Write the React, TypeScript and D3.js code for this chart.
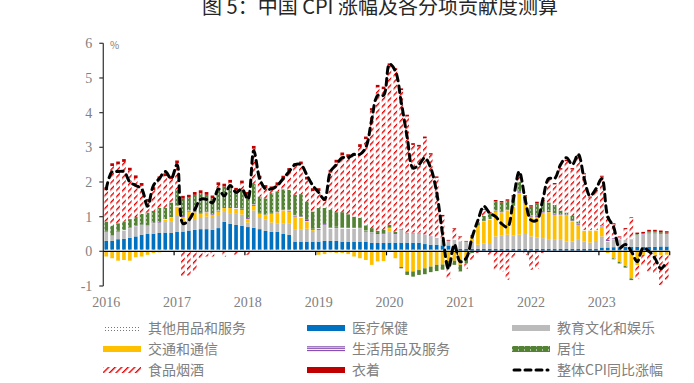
import React from 'react';
import * as d3 from 'd3';

const years = ['2016', '2017', '2018', '2019', '2020', '2021', '2022', '2023'];
const months: string[] = years.flatMap((yr) => d3.range(1, 13).map((m) => `${yr}-${m}`));

// contributions (percentage points), Jan 2016 .. Dec 2023
const other = [
  0.05, 0.05, 0.05, 0.05, 0.05, 0.05, 0.05, 0.05, 0.05, 0.05, 0.05, 0.05,
  0.05, 0.05, 0.05, 0.05, 0.05, 0.05, 0.05, 0.05, 0.05, 0.05, 0.05, 0.05,
  0.05, 0.05, 0.05, 0.05, 0.05, 0.05, 0.05, 0.05, 0.05, 0.05, 0.05, 0.05,
  0.05, 0.05, 0.05, 0.05, 0.05, 0.05, 0.05, 0.05, 0.05, 0.05, 0.05, 0.05,
  0.05, 0.05, 0.05, 0.05, 0.05, 0.05, 0.05, 0.05, 0.05, 0.05, 0.05, 0.05,
  0.02, 0.02, 0.02, 0.02, 0.02, 0.02, 0.02, 0.02, 0.02, 0.02, 0.02, 0.02,
  0.02, 0.02, 0.02, 0.02, 0.02, 0.02, 0.02, 0.02, 0.02, 0.02, 0.02, 0.02,
  0.03, 0.03, 0.03, 0.03, 0.03, 0.03, 0.03, 0.03, 0.03, 0.03, 0.03, 0.03,
];
const medical = [
  0.25, 0.25, 0.3, 0.31, 0.34, 0.38, 0.43, 0.45, 0.46, 0.48, 0.49, 0.48,
  0.51, 0.52, 0.55, 0.57, 0.59, 0.59, 0.57, 0.62, 0.8, 0.74, 0.71, 0.69,
  0.65, 0.63, 0.59, 0.54, 0.51, 0.51, 0.45, 0.43, 0.23, 0.23, 0.23, 0.23,
  0.23, 0.25, 0.25, 0.25, 0.23, 0.23, 0.23, 0.23, 0.23, 0.2, 0.19, 0.19,
  0.2, 0.2, 0.2, 0.2, 0.2, 0.2, 0.16, 0.14, 0.14, 0.12, 0.12, 0.12,
  0.05, 0.05, 0.05, 0.05, 0.05, 0.05, 0.05, 0.05, 0.05, 0.05, 0.05, 0.05,
  0.05, 0.05, 0.05, 0.05, 0.05, 0.05, 0.05, 0.05, 0.05, 0.05, 0.05, 0.05,
  0.08, 0.08, 0.09, 0.09, 0.1, 0.1, 0.1, 0.1, 0.1, 0.1, 0.11, 0.11,
];
const education = [
  0.27, 0.15, 0.22, 0.24, 0.28, 0.29, 0.27, 0.24, 0.3, 0.3, 0.31, 0.32,
  0.46, 0.29, 0.31, 0.31, 0.35, 0.36, 0.37, 0.35, 0.31, 0.31, 0.32, 0.32,
  0.13, 0.5, 0.35, 0.32, 0.27, 0.25, 0.31, 0.33, 0.34, 0.34, 0.37, 0.31,
  0.34, 0.45, 0.35, 0.37, 0.37, 0.37, 0.37, 0.39, 0.29, 0.27, 0.26, 0.24,
  0.32, 0.23, 0.37, 0.27, 0.27, 0.27, 0.27, 0.24, 0.19, 0.16, 0.13, 0.16,
  0.22, 0.2, 0.21, 0.12, 0.15, 0.17, 0.36, 0.38, 0.41, 0.39, 0.41, 0.43,
  0.36, 0.33, 0.31, 0.28, 0.28, 0.26, 0.21, 0.21, 0.26, 0.21, 0.18, 0.23,
  0.32, 0.17, 0.23, 0.23, 0.2, 0.22, 0.33, 0.35, 0.39, 0.39, 0.36, 0.36,
];
const transport = [
  -0.15, -0.2, -0.27, -0.25, -0.27, -0.17, -0.15, -0.1, -0.05, -0.03, 0.06, 0.11,
  0.27, 0.13, 0.24, 0.19, 0.09, 0.12, 0.06, 0.13, 0.09, 0.15, 0.14, 0.14,
  0.1, 0.13, 0.09, 0.11, 0.25, 0.31, 0.37, 0.34, 0.38, 0.34, 0.21, 0.03,
  -0.1, -0.08, -0.03, -0.05, -0.05, -0.08, -0.15, -0.2, -0.25, -0.39, -0.29, -0.28,
  0.1, -0.2, -0.45, -0.58, -0.58, -0.54, -0.49, -0.44, -0.39, -0.38, -0.28, -0.27,
  -0.39, -0.2, 0.15, 0.55, 0.64, 0.67, 0.72, 0.67, 0.7, 0.83, 1.2, 0.89,
  0.57, 0.59, 0.72, 0.78, 0.7, 0.7, 0.74, 0.58, 0.43, 0.31, 0.35, 0.3,
  0.27, -0.05, -0.2, -0.3, -0.42, -0.78, -0.4, -0.1, -0.05, -0.1, -0.12, -0.1,
];
const household = [
  0.02, 0.02, 0.02, 0.02, 0.02, 0.02, 0.02, 0.02, 0.02, 0.02, 0.02, 0.02,
  0.03, 0.03, 0.03, 0.03, 0.03, 0.03, 0.03, 0.03, 0.03, 0.03, 0.03, 0.03,
  0.03, 0.05, 0.03, 0.04, 0.03, 0.03, 0.03, 0.05, 0.05, 0.05, 0.05, 0.03,
  0.05, 0.04, 0.04, 0.04, 0.04, 0.03, 0.03, 0.03, 0.03, 0.03, 0.03, 0.03,
  0.02, 0.02, 0.02, 0.02, 0.02, 0.02, 0.01, 0.01, 0.01, 0.01, 0.01, 0.01,
  0.0, 0.01, 0.01, 0.01, 0.02, 0.02, 0.03, 0.03, 0.03, 0.03, 0.04, 0.04,
  0.04, 0.04, 0.04, 0.04, 0.04, 0.04, 0.04, 0.03, 0.05, 0.03, 0.02, 0.02,
  0.04, 0.05, 0.03, 0.02, 0.01, 0.01, 0.02, 0.02, 0.02, 0.02, 0.02, 0.02,
];
const housing = [
  0.27, 0.27, 0.22, 0.24, 0.24, 0.25, 0.31, 0.36, 0.34, 0.4, 0.32, 0.43,
  0.47, 0.5, 0.37, 0.48, 0.57, 0.48, 0.45, 0.64, 0.59, 0.54, 0.5, 0.54,
  0.67, 0.58, 0.47, 0.47, 0.57, 0.58, 0.58, 0.57, 0.58, 0.64, 0.52, 0.5,
  0.58, 0.46, 0.51, 0.42, 0.44, 0.39, 0.32, 0.27, 0.15, 0.12, 0.06, 0.11,
  0.07, 0.06, -0.04, -0.1, -0.15, -0.14, -0.17, -0.16, -0.18, -0.15, -0.12, -0.12,
  -0.19, -0.15, -0.05, 0.06, 0.14, 0.17, 0.26, 0.26, 0.25, 0.26, 0.29, 0.15,
  0.25, 0.36, 0.3, 0.24, 0.25, 0.11, 0.06, 0.13, 0.05, -0.02, -0.02, -0.02,
  0.02, 0.0, -0.03, -0.05, -0.05, -0.05, 0.02, 0.02, 0.03, 0.03, 0.03, 0.02,
];
const food = [
  0.91, 1.72, 1.7, 1.72, 1.4, 1.12, 0.81, 0.31, 0.6, 0.83, 0.92, 0.67,
  0.75, -0.71, -0.7, -0.58, -0.2, -0.15, -0.15, 0.09, -0.15, 0.16, -0.1, 0.19,
  -0.1, 1.02, 0.52, 0.3, 0.11, 0.18, 0.31, 0.55, 0.83, 0.86, 0.64, 0.59,
  0.49, 0.2, 1.07, 1.43, 1.64, 1.65, 1.75, 2.04, 2.49, 3.39, 4.14, 4.06,
  4.61, 4.67, 4.01, 3.35, 2.53, 2.48, 2.77, 2.35, 1.73, 0.67, -0.4, 0.31,
  0.12, -0.15, -0.2, -0.05, 0.18, -0.1, -0.53, -0.58, -0.82, -0.2, 0.2, -0.1,
  -0.53, -0.5, -0.05, 0.66, 0.59, 1.18, 1.48, 1.34, 1.88, 1.6, 0.93, 1.12,
  1.39, 0.64, 0.4, 0.03, 0.3, 0.6, -0.4, -0.32, -0.53, -0.55, -0.85, -0.72,
];
const clothing = [
  0.08, 0.08, 0.08, 0.08, 0.08, 0.08, 0.08, 0.08, 0.08, 0.08, 0.08, 0.08,
  0.08, 0.08, 0.08, 0.08, 0.08, 0.08, 0.08, 0.08, 0.08, 0.08, 0.08, 0.08,
  0.08, 0.08, 0.08, 0.08, 0.08, 0.08, 0.08, 0.08, 0.08, 0.08, 0.08, 0.08,
  0.08, 0.08, 0.08, 0.08, 0.08, 0.08, 0.08, 0.08, 0.07, 0.07, 0.07, 0.07,
  0.05, 0.05, 0.05, 0.05, 0.05, 0.05, 0.05, 0.04, 0.04, 0.04, 0.02, 0.02,
  0.02, 0.02, 0.02, 0.02, 0.02, 0.03, 0.04, 0.04, 0.04, 0.04, 0.04, 0.04,
  0.04, 0.04, 0.04, 0.04, 0.04, 0.04, 0.04, 0.04, 0.04, 0.03, 0.03, 0.03,
  0.03, 0.03, 0.03, 0.03, 0.03, 0.02, 0.04, 0.04, 0.05, 0.05, 0.05, 0.04,
];
const cpi = [
  1.8, 2.3, 2.3, 2.3, 2.0, 1.9, 1.8, 1.3, 1.9, 2.1, 2.3, 2.1,
  2.5, 0.8, 0.9, 1.2, 1.5, 1.5, 1.4, 1.8, 1.6, 1.9, 1.7, 1.8,
  1.5, 2.9, 2.1, 1.8, 1.8, 1.9, 2.1, 2.3, 2.5, 2.5, 2.2, 1.9,
  1.7, 1.5, 2.3, 2.5, 2.7, 2.7, 2.8, 2.8, 3.0, 3.8, 4.5, 4.5,
  5.4, 5.2, 4.3, 3.3, 2.4, 2.5, 2.7, 2.4, 1.7, 0.5, -0.5, 0.2,
  -0.3, -0.2, 0.4, 0.9, 1.3, 1.1, 1.0, 0.8, 0.7, 1.5, 2.3, 1.5,
  0.9, 0.9, 1.5, 2.1, 2.1, 2.5, 2.7, 2.5, 2.8, 2.1, 1.6, 1.8,
  2.1, 1.0, 0.7, 0.1, 0.2, 0.0, -0.3, 0.1, 0.0, -0.2, -0.5, -0.3,
];

const yTicks = [-1, 0, 1, 2, 3, 4, 5, 6];

const seriesNames = ['其他用品和服务', '医疗保健', '教育文化和娱乐', '交通和通信', '生活用品及服务', '居住', '食品烟酒', '衣着'];
const seriesData = [other, medical, education, transport, household, housing, food, clothing];
const seriesFills = ['url(#pOther)', '#0070C0', '#BBBBBB', '#FFC000', 'url(#pHH)', 'url(#pHousing)', 'url(#pFood)', '#C00000'];
const lineName = '整体CPI同比涨幅';

export default function App() {
  const W = 694;
  const H = 383;
  const left = 103.3;
  const right = 669.7;
  const x = d3.scaleBand<string>().domain(months).range([left, right]).paddingInner(0.38).paddingOuter(0.19);
  const y = d3.scaleLinear().domain([-1, 6]).range([286, 43.3]);
  const step = x.step();
  const bw = x.bandwidth();

  const rows = months.map((m, i) => {
    const r: Record<string, any> = { m };
    seriesNames.forEach((n, k) => (r[n] = seriesData[k][i]));
    return r;
  });
  const stacked = d3.stack<any>().keys(seriesNames).offset(d3.stackOffsetDiverging)(rows);

  const line = d3
    .line<number>()
    .x((_, i) => (x(months[i]) as number) + bw / 2)
    .y((v) => y(v))
    .curve(d3.curveCatmullRom.alpha(0.5));

  const legendCols = [103, 307, 512];
  const legendRows = [328, 349, 370];
  const legendItems = [...seriesNames.map((n, k) => ({ name: n, fill: seriesFills[k], line: false })), { name: lineName, fill: '', line: true }];

  const gray = '#808080';
  const serif = '"Times New Roman", "Liberation Serif", serif';
  const cjk = '"Noto Sans CJK SC", sans-serif';

  return (
    <svg width={W} height={H} style={{ position: 'absolute', left: 0, top: 0, background: '#fff' }}>
      <defs>
        <pattern id="pFood" width="4.6" height="4.6" patternUnits="userSpaceOnUse" patternTransform="rotate(45)">
          <rect width="4.6" height="4.6" fill="#fff" />
          <rect width="1.4" height="4.6" fill="#E60000" />
        </pattern>
        <pattern id="pHousing" width="6" height="4" patternUnits="userSpaceOnUse">
          <rect width="6" height="4" fill="#548235" />
          <rect x="2" y="1.5" width="1" height="1" fill="#fff" />
        </pattern>
        <pattern id="pHH" width="4" height="2.2" patternUnits="userSpaceOnUse">
          <rect width="4" height="2.2" fill="#fff" />
          <rect width="4" height="1.2" fill="#7030A0" />
        </pattern>
        <pattern id="pOther" width="3" height="3" patternUnits="userSpaceOnUse">
          <rect width="3" height="3" fill="#fff" />
          <rect width="0.9" height="0.9" fill="#555" />
        </pattern>
      </defs>

      <text x={380} y={14} textAnchor="middle" fontFamily={cjk} fontSize={20} fill="#262626">
        图 5：中国 CPI 涨幅及各分项贡献度测算
      </text>

      {stacked.map((s, k) => (
        <g key={s.key} fill={seriesFills[k]}>
          {s.map((d, i) => {
            const y0 = y(d[0]);
            const y1 = y(d[1]);
            const h = Math.abs(y0 - y1);
            if (h < 0.01) return null;
            return <rect key={i} x={x(months[i])} y={Math.min(y0, y1)} width={bw} height={h} />;
          })}
        </g>
      ))}

      {/* y axis */}
      <line x1={left} x2={left} y1={y(6)} y2={y(-1)} stroke="#404040" strokeWidth={1.3} />
      {yTicks.map((t) => (
        <g key={t}>
          <line x1={left - 4} x2={left} y1={y(t)} y2={y(t)} stroke="#404040" strokeWidth={1.3} />
          <text x={left - 11} y={y(t) + 5} textAnchor="end" fontFamily={serif} fontSize={14} fill={gray}>
            {t}
          </text>
        </g>
      ))}
      <text x={110} y={49} fontFamily={cjk} fontSize={10} fill={gray}>
        %
      </text>

      {/* x axis at zero */}
      <line x1={left} x2={right} y1={y(0)} y2={y(0)} stroke="#000" strokeWidth={1.4} />
      {years.map((yr, k) => (
        <g key={yr}>
          <line x1={left + step * 12 * (k + 1)} x2={left + step * 12 * (k + 1)} y1={y(0)} y2={y(0) + 4} stroke="#000" strokeWidth={1.2} />
          <text x={(x(`${yr}-1`) as number) + bw / 2} y={307} textAnchor="middle" fontFamily={serif} fontSize={14} fill={gray}>
            {yr}
          </text>
        </g>
      ))}

      <path d={line(cpi) || ''} fill="none" stroke="#000" strokeWidth={3} strokeDasharray="6.5,5" strokeLinecap="round" />

      {legendItems.map((it, k) => {
        const cx = legendCols[k % 3];
        const cy = legendRows[Math.floor(k / 3)];
        return (
          <g key={it.name}>
            {it.line ? (
              <line x1={cx + 2} x2={cx + 36} y1={cy} y2={cy} stroke="#000" strokeWidth={3} strokeDasharray="6,5" strokeLinecap="round" />
            ) : (
              <rect x={cx} y={cy - 3} width={38} height={6} fill={it.fill} />
            )}
            <text x={cx + 45} y={cy + 5} fontFamily={cjk} fontSize={14} fill={gray}>
              {it.name}
            </text>
          </g>
        );
      })}
    </svg>
  );
}
